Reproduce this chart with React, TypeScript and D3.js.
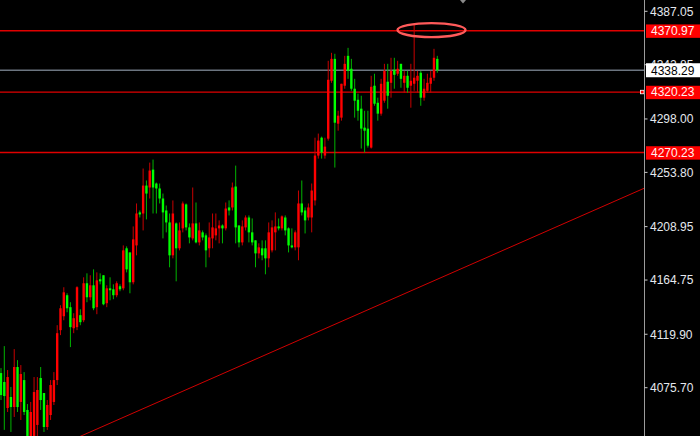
import React from "react";
import * as d3 from "d3";

// OHLC series, one entry per bar (oldest first)
const open = [
  4087.8, 4080.4, 4058.9, 4068.0, 4059.7, 4092.8, 4063.9, 4082.0, 4057.3, 4032.5,
  4032.5, 4044.9, 4083.7, 4071.3, 4043.2, 4053.1, 4063.9, 4082.0, 4123.3, 4134.8,
  4152.2, 4142.3, 4124.9, 4125.8, 4135.7, 4131.5, 4162.1, 4150.5, 4160.4, 4142.3,
  4165.4, 4168.7, 4145.6, 4157.9, 4157.1, 4152.2, 4159.6, 4157.9, 4191.0, 4187.6,
  4162.9, 4193.4, 4220.7, 4219.8, 4242.9, 4241.3, 4256.1, 4244.6, 4240.5, 4232.2,
  4222.3, 4212.4, 4185.2, 4211.6, 4191.0, 4207.5, 4227.3, 4208.3, 4199.2, 4211.6,
  4195.9, 4204.2, 4201.7, 4191.0, 4199.2, 4201.7, 4207.5, 4209.9, 4207.5, 4224.8,
  4224.8, 4242.1, 4209.9, 4195.9, 4208.3, 4216.5, 4204.2, 4197.6, 4186.8, 4191.0,
  4191.0, 4182.7, 4189.3, 4204.2, 4209.1, 4207.5, 4216.5, 4207.5, 4193.4, 4191.8,
  4191.8, 4228.1, 4222.3, 4216.5, 4216.5, 4230.6, 4267.7, 4282.5, 4267.7, 4281.7,
  4329.6, 4347.7, 4294.1, 4299.1, 4325.5, 4350.2, 4339.5, 4323.0, 4313.9, 4306.5,
  4290.8, 4290.0, 4274.3, 4325.5, 4311.4, 4302.4, 4313.1, 4328.8, 4327.9, 4338.7,
  4335.4, 4343.6, 4327.9, 4333.7, 4325.5, 4327.1, 4329.6, 4336.2, 4315.6, 4321.3,
  4327.1, 4332.1, 4347.7,
];
const high = [
  4091.9, 4110.1, 4090.3, 4076.3, 4107.6, 4098.5, 4094.4, 4088.6, 4062.2, 4063.9,
  4084.5, 4084.5, 4092.8, 4071.3, 4065.5, 4082.0, 4088.6, 4127.4, 4143.9, 4158.8,
  4153.8, 4146.4, 4137.3, 4159.6, 4140.6, 4167.0, 4170.3, 4168.7, 4173.6, 4171.1,
  4170.3, 4168.7, 4160.4, 4167.0, 4161.2, 4163.7, 4161.2, 4193.4, 4192.6, 4187.6,
  4209.1, 4228.1, 4222.3, 4257.0, 4247.1, 4261.9, 4264.4, 4245.4, 4244.6, 4236.3,
  4226.4, 4219.8, 4230.6, 4212.4, 4212.4, 4229.7, 4228.1, 4211.6, 4241.3, 4228.9,
  4212.4, 4205.8, 4203.3, 4212.4, 4219.8, 4219.8, 4214.1, 4210.8, 4228.9, 4230.6,
  4245.4, 4259.4, 4209.9, 4214.1, 4218.2, 4218.2, 4215.7, 4197.6, 4195.1, 4197.6,
  4197.6, 4212.4, 4214.1, 4220.7, 4215.7, 4218.2, 4218.2, 4208.3, 4207.5, 4205.8,
  4238.8, 4247.1, 4224.8, 4228.1, 4244.6, 4282.5, 4285.9, 4283.4, 4282.5, 4346.1,
  4352.7, 4351.9, 4304.8, 4327.1, 4350.2, 4356.8, 4347.7, 4331.2, 4318.9, 4317.2,
  4304.8, 4304.8, 4333.7, 4335.4, 4315.6, 4331.2, 4343.6, 4343.6, 4348.6, 4348.6,
  4346.1, 4343.6, 4337.8, 4337.8, 4343.6, 4375.8, 4337.8, 4337.8, 4331.2, 4335.4,
  4337.8, 4356.0, 4350.2,
];
const low = [
  4065.5, 4040.8, 4055.6, 4039.1, 4051.5, 4055.6, 4049.0, 4053.1, 4028.4, 4028.4,
  4028.4, 4028.4, 4057.3, 4039.1, 4040.8, 4049.0, 4061.4, 4077.9, 4119.2, 4131.5,
  4138.1, 4109.3, 4120.8, 4123.3, 4127.4, 4129.9, 4146.4, 4148.0, 4139.8, 4136.5,
  4161.2, 4143.9, 4142.3, 4148.0, 4148.9, 4150.5, 4155.5, 4156.3, 4171.1, 4153.8,
  4161.2, 4185.2, 4216.5, 4205.8, 4214.9, 4232.2, 4219.8, 4219.8, 4228.1, 4199.2,
  4204.2, 4175.3, 4182.7, 4163.7, 4189.3, 4204.2, 4205.8, 4195.1, 4197.6, 4195.1,
  4193.4, 4197.6, 4175.3, 4183.5, 4191.0, 4197.6, 4195.1, 4195.1, 4205.8, 4218.2,
  4222.3, 4195.1, 4191.8, 4193.4, 4205.8, 4195.9, 4193.4, 4175.3, 4182.7, 4181.1,
  4169.5, 4175.3, 4187.6, 4189.3, 4205.8, 4205.8, 4201.7, 4187.6, 4191.0, 4189.3,
  4181.1, 4218.2, 4203.3, 4214.1, 4204.2, 4226.4, 4265.2, 4265.2, 4265.2, 4280.1,
  4327.9, 4257.8, 4288.3, 4296.6, 4323.0, 4331.2, 4321.3, 4299.1, 4296.6, 4273.5,
  4270.2, 4274.3, 4273.5, 4308.9, 4296.6, 4300.7, 4311.4, 4306.5, 4315.6, 4323.0,
  4333.7, 4323.8, 4319.7, 4319.7, 4307.3, 4321.3, 4319.7, 4308.9, 4313.1, 4319.7,
  4319.7, 4329.6, 4336.2,
];
const close = [
  4069.6, 4068.8, 4084.5, 4059.7, 4092.8, 4059.7, 4087.0, 4055.6, 4032.5, 4055.6,
  4072.1, 4073.8, 4065.5, 4043.2, 4061.4, 4077.9, 4082.0, 4120.8, 4141.4, 4154.6,
  4141.4, 4125.8, 4133.2, 4158.8, 4129.9, 4162.1, 4150.5, 4160.4, 4141.4, 4164.5,
  4163.7, 4144.7, 4157.9, 4156.3, 4152.2, 4162.1, 4157.1, 4189.3, 4173.6, 4162.9,
  4198.4, 4219.8, 4219.0, 4242.9, 4236.3, 4255.3, 4241.3, 4240.5, 4232.2, 4220.7,
  4212.4, 4185.2, 4219.8, 4191.0, 4205.8, 4228.1, 4208.3, 4200.0, 4211.6, 4195.9,
  4205.8, 4200.0, 4189.3, 4200.0, 4208.3, 4207.5, 4209.9, 4207.5, 4223.9, 4222.3,
  4241.3, 4208.3, 4195.9, 4209.1, 4216.5, 4204.2, 4195.9, 4186.8, 4191.8, 4185.2,
  4182.7, 4204.2, 4208.3, 4209.1, 4207.5, 4217.4, 4205.8, 4193.4, 4191.8, 4204.2,
  4228.1, 4220.7, 4214.1, 4224.8, 4238.8, 4267.7, 4280.1, 4270.2, 4275.1, 4330.4,
  4347.7, 4294.9, 4300.7, 4327.1, 4343.6, 4337.8, 4323.0, 4313.1, 4304.8, 4290.0,
  4288.3, 4275.9, 4324.6, 4310.6, 4302.4, 4327.1, 4337.8, 4317.2, 4337.8, 4334.5,
  4339.5, 4331.2, 4333.7, 4323.8, 4329.6, 4332.1, 4333.7, 4315.6, 4323.0, 4327.9,
  4332.1, 4348.6, 4338.29,
];

// price scale labels
const priceTicks = [4387.05, 4342.85, 4298.0, 4253.8, 4208.95, 4164.75, 4119.9, 4075.7];
// horizontal support / resistance levels
const levelLines = [4370.97, 4320.23, 4270.23];
const lastPrice = 4338.29;
// rising trend line, two anchors (bar index, price)
const trendIndex = [24, 132];
const trendPrice = [4035.5, 4165.4];
// highlighted spike above the upper level
const markIndex = 130.25;
const markPrice = 4371.5;

const W = 700;
const H = 436;
const AXIS_X = 644.5;

export default function App() {
  const x = d3.scaleLinear().domain([0, open.length - 1]).range([1, 437.3]);
  const y = d3.scaleLinear().domain([4075.7, 4387.05]).range([387.7, 11.3]);

  const bars = d3.range(open.length).map((i) => ({
    i,
    o: open[i],
    h: high[i],
    l: low[i],
    c: close[i],
  }));

  // extend trend line across the plot area
  const tx0 = x(trendIndex[0]);
  const ty0 = y(trendPrice[0]);
  const tx1 = x(trendIndex[1]);
  const ty1 = y(trendPrice[1]);
  const slope = (ty1 - ty0) / (tx1 - tx0);
  const trendStartX = 0;
  const trendEndX = AXIS_X;

  const font = "'Liberation Sans', Arial, sans-serif";

  return (
    <svg
      width={W}
      height={H}
      style={{ position: "fixed", left: 0, top: 0, display: "block" }}
    >
      <defs>
        <clipPath id="plot">
          <rect x={0} y={0} width={AXIS_X} height={H} />
        </clipPath>
      </defs>
      <rect x={0} y={0} width={W} height={H} fill="#000" />

      <g clipPath="url(#plot)">
        {/* level lines */}
        {levelLines.map((v) => (
          <line
            key={v}
            x1={0}
            x2={AXIS_X}
            y1={y(v)}
            y2={y(v)}
            stroke="#e00000"
            strokeWidth={1.4}
          />
        ))}
        <line
          x1={0}
          x2={AXIS_X}
          y1={y(lastPrice)}
          y2={y(lastPrice)}
          stroke="#6c7580"
          strokeWidth={1.5}
        />
        {/* trend line */}
        <line
          x1={trendStartX}
          y1={ty0 + slope * (trendStartX - tx0)}
          x2={trendEndX}
          y2={ty0 + slope * (trendEndX - tx0)}
          stroke="#d00000"
          strokeWidth={1}
        />

        {/* candles */}
        {bars.map((b) => {
          const up = b.c >= b.o;
          const cx = x(b.i);
          const top = y(Math.max(b.o, b.c));
          const bot = y(Math.min(b.o, b.c));
          return (
            <g key={b.i}>
              <line
                x1={cx}
                x2={cx}
                y1={y(b.h)}
                y2={y(b.l)}
                stroke={up ? "#c80000" : "#00b400"}
                strokeWidth={1}
              />
              <rect
                x={cx - 1.2}
                y={top}
                width={2.4}
                height={Math.max(1.2, bot - top)}
                fill={up ? "#ff0000" : "#00ff00"}
              />
            </g>
          );
        })}

        {/* highlight ring */}
        <ellipse
          cx={x(markIndex)}
          cy={y(markPrice)}
          rx={34}
          ry={7}
          fill="none"
          stroke="#ff5a5a"
          strokeWidth={2.4}
        />

        {/* anchor marker on the middle level */}
        <rect
          x={AXIS_X - 4}
          y={y(levelLines[1]) - 1.8}
          width={3.5}
          height={3.5}
          fill="#ff0000"
          stroke="#ffffff"
          strokeWidth={0.8}
        />
      </g>

      {/* small marker at top */}
      <polygon points="460,0 466,0 463,3.5" fill="#8a8a8a" />

      {/* price axis */}
      <line x1={AXIS_X} x2={AXIS_X} y1={0} y2={H} stroke="#9c9c9c" strokeWidth={1} />
      {priceTicks.map((t) => (
        <g key={t}>
          <line
            x1={AXIS_X}
            x2={AXIS_X + 3}
            y1={y(t)}
            y2={y(t)}
            stroke="#c8c8c8"
            strokeWidth={1}
          />
          <text
            x={650}
            y={y(t)}
            dy="0.36em"
            fill="#e4e8ee"
            fontFamily={font}
            fontSize={12}
          >
            {t.toFixed(2)}
          </text>
        </g>
      ))}

      {levelLines.map((v) => (
        <g key={"lbl" + v}>
          <rect x={646} y={y(v) - 6.3} width={54} height={13.4} fill="#ff0000" />
          <text
            x={651}
            y={y(v)}
            dy="0.36em"
            fill="#fff0f0"
            fontFamily={font}
            fontSize={12}
          >
            {v.toFixed(2)}
          </text>
        </g>
      ))}

      <rect x={646} y={y(lastPrice) - 7} width={54} height={14} fill="#ffffff" />
      <text
        x={651}
        y={y(lastPrice)}
        dy="0.36em"
        fill="#000"
        fontFamily={font}
        fontSize={12}
      >
        {lastPrice.toFixed(2)}
      </text>
    </svg>
  );
}
